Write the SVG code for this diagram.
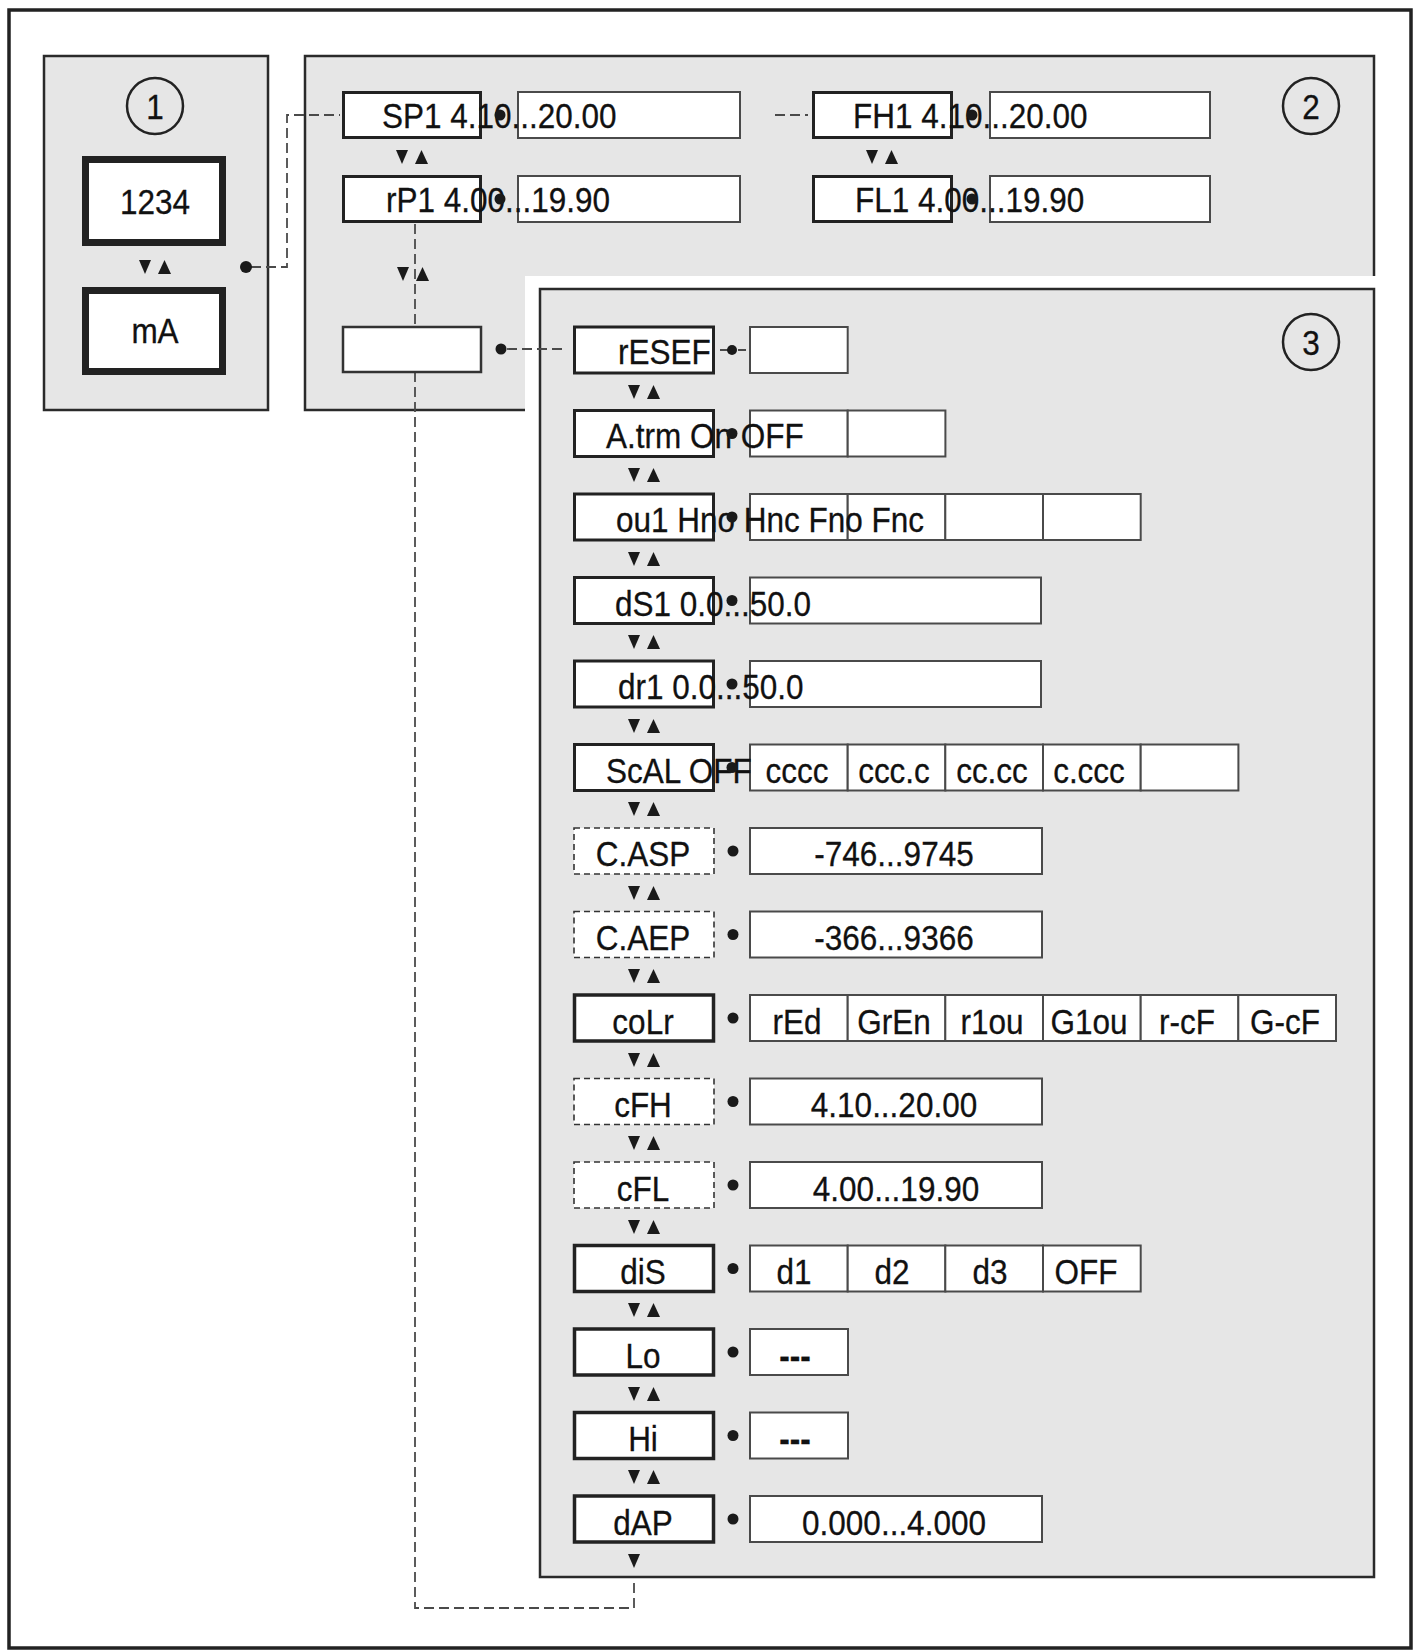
<svg xmlns="http://www.w3.org/2000/svg" xmlns:xlink="http://www.w3.org/1999/xlink" width="1415" height="1651" viewBox="0 0 1415 1651">
<defs>
<style>
.frame{fill:#fff;stroke:#222;stroke-width:3.5}
.panel{fill:#e6e6e6;stroke:#2a2a2a;stroke-width:2.5}
.key{fill:#fff;stroke:#222;stroke-width:3}
.keyd{fill:#fff;stroke:#333;stroke-width:1.6;stroke-dasharray:6 4}
.val{fill:#fff;stroke:#4a4a4a;stroke-width:2}
.big{fill:#fff;stroke:#222;stroke-width:7}
.t{font-family:"Liberation Sans",Arial,sans-serif;font-size:36px;fill:#111;stroke:#111;stroke-width:0.3}
.c{text-anchor:middle}
.dash{fill:none;stroke:#4a4a4a;stroke-width:1.8;stroke-dasharray:10 5}
.dot{fill:#1a1a1a}
.circ{fill:none;stroke:#222;stroke-width:2.5}
.tri{fill:#1a1a1a}
</style>
<g id="ud" class="tri"><polygon points="-16,-7 -4,-7 -10,7"/><polygon points="3,7 16,7 9.5,-7"/></g>
<g id="dn" class="tri"><polygon points="-16,-7 -4,-7 -10,7"/></g>
</defs>

<rect class="frame" x="9" y="10" width="1402" height="1638"/>

<g id="panel1">
<rect class="panel" x="44" y="56" width="224" height="354"/>
</g>
<g id="panel2">
<rect class="panel" x="305" y="56" width="1069" height="354"/>
</g>
<g id="panel3">
<rect x="525" y="276" width="864" height="1316" fill="#fff"/>
<rect class="panel" x="540" y="289" width="834" height="1288"/>
</g>

<g id="markers">
<circle class="circ" cx="155" cy="106" r="28"/>
<text class="t c" transform="matrix(.875 0 0 1 155 119)">1</text>
<circle class="circ" cx="1311" cy="106" r="28"/>
<text class="t c" transform="matrix(.875 0 0 1 1311 119)">2</text>
<circle class="circ" cx="1311" cy="342" r="28"/>
<text class="t c" transform="matrix(.875 0 0 1 1311 355)">3</text>
</g>

<g id="connectors">
<path class="dash" d="M251,267 H287 V115 H340"/>
<path class="dash" d="M775,115 H808"/>
<path class="dash" d="M415,224 V327"/>
<path class="dash" d="M415,372 V1608 H634 V1582"/>
<path class="dash" d="M507,349 H566"/>
<path class="dash" d="M720,350 H750" style="stroke-dasharray:8 10"/>
<use href="#ud" x="155" y="267"/>
<use href="#ud" x="412" y="157"/>
<use href="#ud" x="413" y="274"/>
<use href="#ud" x="882" y="157"/>
<use href="#ud" x="644" y="392"/>
<use href="#ud" x="644" y="475"/>
<use href="#ud" x="644" y="559"/>
<use href="#ud" x="644" y="642"/>
<use href="#ud" x="644" y="726"/>
<use href="#ud" x="644" y="809"/>
<use href="#ud" x="644" y="893"/>
<use href="#ud" x="644" y="976"/>
<use href="#ud" x="644" y="1060"/>
<use href="#ud" x="644" y="1143"/>
<use href="#ud" x="644" y="1227"/>
<use href="#ud" x="644" y="1310"/>
<use href="#ud" x="644" y="1394"/>
<use href="#ud" x="644" y="1477"/>
<use href="#dn" x="644" y="1561"/>
</g>

<g id="n-1234">
<rect class="big" x="85.5" y="159.5" width="137" height="83"/>
<text class="t c" transform="matrix(.875 0 0 1 155 214)">1234</text>
</g>
<g id="n-mA">
<rect class="big" x="85.5" y="290.5" width="137" height="81"/>
<text class="t c" transform="matrix(.875 0 0 1 155 343)">mA</text>
<circle class="dot" cx="246" cy="267" r="6"/>
</g>

<g id="n-SP1">
<rect class="key" x="343.5" y="92.5" width="137" height="45"/>
<rect class="val" x="518" y="92" width="222" height="46"/>
<text class="t" transform="matrix(.875 0 0 1 382 128)">SP1 4.10...20.00</text>
<circle class="dot" cx="500" cy="115" r="5.5"/>
</g>
<g id="n-rP1">
<rect class="key" x="343.5" y="176.5" width="137" height="45"/>
<rect class="val" x="518" y="176" width="222" height="46"/>
<text class="t" transform="matrix(.875 0 0 1 386 212)">rP1 4.00...19.90</text>
<circle class="dot" cx="500" cy="199" r="5.5"/>
</g>
<g id="n-FH1">
<rect class="key" x="813.5" y="92.5" width="138" height="45"/>
<rect class="val" x="990" y="92" width="220" height="46"/>
<text class="t" transform="matrix(.875 0 0 1 853 128)">FH1 4.10...20.00</text>
<circle class="dot" cx="972" cy="115" r="5.5"/>
</g>
<g id="n-FL1">
<rect class="key" x="813.5" y="176.5" width="138" height="45"/>
<rect class="val" x="990" y="176" width="220" height="46"/>
<text class="t" transform="matrix(.875 0 0 1 855 212)">FL1 4.00...19.90</text>
<circle class="dot" cx="972" cy="199" r="5.5"/>
</g>
<g id="n-blank">
<rect class="val" x="343" y="327" width="138" height="45" style="stroke:#333;stroke-width:2.5"/>
<circle class="dot" cx="501" cy="349" r="5.5"/>
</g>

<g id="n-rESEF" transform="translate(0,327)">
<rect class="key" x="574.5" y="0" width="139" height="46"/>
<rect class="val" x="750" y="0" width="97.7" height="46"/>
<text class="t" transform="matrix(.875 0 0 1 618 37)">rESEF</text>
<circle class="dot" cx="732" cy="23" r="5"/>
</g>
<g id="n-Atrm" transform="translate(0,410.5)">
<rect class="key" x="574.5" y="0" width="139" height="46"/>
<rect class="val" x="750" y="0" width="97.7" height="46"/>
<rect class="val" x="847.7" y="0" width="97.7" height="46"/>
<text class="t" transform="matrix(.875 0 0 1 606 37.5)">A.trm On OFF</text>
<circle class="dot" cx="732" cy="23" r="5.5"/>
</g>
<g id="n-ou1" transform="translate(0,494)">
<rect class="key" x="574.5" y="0" width="139" height="46"/>
<rect class="val" x="750" y="0" width="97.7" height="46"/>
<rect class="val" x="847.7" y="0" width="97.7" height="46"/>
<rect class="val" x="945.3" y="0" width="97.7" height="46"/>
<rect class="val" x="1043" y="0" width="97.7" height="46"/>
<text class="t" transform="matrix(.875 0 0 1 616 37.5)">ou1 Hno Hnc Fno Fnc</text>
<circle class="dot" cx="732" cy="23" r="5.5"/>
</g>
<g id="n-dS1" transform="translate(0,577.5)">
<rect class="key" x="574.5" y="0" width="139" height="46"/>
<rect class="val" x="750" y="0" width="291" height="46"/>
<text class="t" transform="matrix(.875 0 0 1 615 38)">dS1 0.0...50.0</text>
<circle class="dot" cx="732" cy="23" r="5.5"/>
</g>
<g id="n-dr1" transform="translate(0,661)">
<rect class="key" x="574.5" y="0" width="139" height="46"/>
<rect class="val" x="750" y="0" width="291" height="46"/>
<text class="t" transform="matrix(.875 0 0 1 618 38)">dr1 0.0...50.0</text>
<circle class="dot" cx="732" cy="23" r="5.5"/>
</g>
<g id="n-ScAL" transform="translate(0,744.5)">
<rect class="key" x="574.5" y="0" width="139" height="46"/>
<rect class="val" x="750" y="0" width="97.7" height="46"/>
<rect class="val" x="847.7" y="0" width="97.7" height="46"/>
<rect class="val" x="945.3" y="0" width="97.7" height="46"/>
<rect class="val" x="1043" y="0" width="97.7" height="46"/>
<rect class="val" x="1140.7" y="0" width="97.7" height="46"/>
<text class="t" transform="matrix(.875 0 0 1 606 38)">ScAL OFF</text>
<text class="t c" transform="matrix(.875 0 0 1 797 38)">cccc</text>
<text class="t c" transform="matrix(.875 0 0 1 894 38)">ccc.c</text>
<text class="t c" transform="matrix(.875 0 0 1 992 38)">cc.cc</text>
<text class="t c" transform="matrix(.875 0 0 1 1089 38)">c.ccc</text>
<circle class="dot" cx="732" cy="23" r="5.5"/>
</g>
<g id="n-CASP" transform="translate(0,828)">
<rect class="keyd" x="574" y="0" width="140" height="46"/>
<rect class="val" x="750" y="0" width="292" height="46"/>
<text class="t c" transform="matrix(.875 0 0 1 643 38)">C.ASP</text>
<text class="t c" transform="matrix(.875 0 0 1 894 38)">-746...9745</text>
<circle class="dot" cx="733" cy="23" r="5.5"/>
</g>
<g id="n-CAEP" transform="translate(0,911.5)">
<rect class="keyd" x="574" y="0" width="140" height="46"/>
<rect class="val" x="750" y="0" width="292" height="46"/>
<text class="t c" transform="matrix(.875 0 0 1 643 38)">C.AEP</text>
<text class="t c" transform="matrix(.875 0 0 1 894 38)">-366...9366</text>
<circle class="dot" cx="733" cy="23" r="5.5"/>
</g>
<g id="n-coLr" transform="translate(0,995)">
<rect class="key" x="574.5" y="0" width="139" height="46" style="stroke-width:3.5"/>
<rect class="val" x="750" y="0" width="97.7" height="46"/>
<rect class="val" x="847.7" y="0" width="97.7" height="46"/>
<rect class="val" x="945.3" y="0" width="97.7" height="46"/>
<rect class="val" x="1043" y="0" width="97.7" height="46"/>
<rect class="val" x="1140.7" y="0" width="97.7" height="46"/>
<rect class="val" x="1238.3" y="0" width="97.7" height="46"/>
<text class="t c" transform="matrix(.875 0 0 1 643 38.5)">coLr</text>
<text class="t c" transform="matrix(.875 0 0 1 797 38.5)">rEd</text>
<text class="t c" transform="matrix(.875 0 0 1 894 38.5)">GrEn</text>
<text class="t c" transform="matrix(.875 0 0 1 992 38.5)">r1ou</text>
<text class="t c" transform="matrix(.875 0 0 1 1089 38.5)">G1ou</text>
<text class="t c" transform="matrix(.875 0 0 1 1187 38.5)">r-cF</text>
<text class="t c" transform="matrix(.875 0 0 1 1285 38.5)">G-cF</text>
<circle class="dot" cx="733" cy="23" r="5.5"/>
</g>
<g id="n-cFH" transform="translate(0,1078.5)">
<rect class="keyd" x="574" y="0" width="140" height="46"/>
<rect class="val" x="750" y="0" width="292" height="46"/>
<text class="t c" transform="matrix(.875 0 0 1 643 38.5)">cFH</text>
<text class="t c" transform="matrix(.875 0 0 1 894 38.5)">4.10...20.00</text>
<circle class="dot" cx="733" cy="23" r="5.5"/>
</g>
<g id="n-cFL" transform="translate(0,1162)">
<rect class="keyd" x="574" y="0" width="140" height="46"/>
<rect class="val" x="750" y="0" width="292" height="46"/>
<text class="t c" transform="matrix(.875 0 0 1 643 38.5)">cFL</text>
<text class="t c" transform="matrix(.875 0 0 1 896 38.5)">4.00...19.90</text>
<circle class="dot" cx="733" cy="23" r="5.5"/>
</g>
<g id="n-diS" transform="translate(0,1245.5)">
<rect class="key" x="574.5" y="0" width="139" height="46" style="stroke-width:3.5"/>
<rect class="val" x="750" y="0" width="97.7" height="46"/>
<rect class="val" x="847.7" y="0" width="97.7" height="46"/>
<rect class="val" x="945.3" y="0" width="97.7" height="46"/>
<rect class="val" x="1043" y="0" width="97.7" height="46"/>
<text class="t c" transform="matrix(.875 0 0 1 643 38.5)">diS</text>
<text class="t c" transform="matrix(.875 0 0 1 794 38.5)">d1</text>
<text class="t c" transform="matrix(.875 0 0 1 892 38.5)">d2</text>
<text class="t c" transform="matrix(.875 0 0 1 990 38.5)">d3</text>
<text class="t c" transform="matrix(.875 0 0 1 1086 38.5)">OFF</text>
<circle class="dot" cx="733" cy="23" r="5.5"/>
</g>
<g id="n-Lo" transform="translate(0,1329)">
<rect class="key" x="574.5" y="0" width="139" height="46" style="stroke-width:3.5"/>
<rect class="val" x="750" y="0" width="98" height="46"/>
<text class="t c" transform="matrix(.875 0 0 1 643 38.5)">Lo</text>
<text class="t c" transform="matrix(.875 0 0 1 795 38.5)" style="font-weight:bold">---</text>
<circle class="dot" cx="733" cy="23" r="5.5"/>
</g>
<g id="n-Hi" transform="translate(0,1412.5)">
<rect class="key" x="574.5" y="0" width="139" height="46" style="stroke-width:3.5"/>
<rect class="val" x="750" y="0" width="98" height="46"/>
<text class="t c" transform="matrix(.875 0 0 1 643 38.5)">Hi</text>
<text class="t c" transform="matrix(.875 0 0 1 795 38.5)" style="font-weight:bold">---</text>
<circle class="dot" cx="733" cy="23" r="5.5"/>
</g>
<g id="n-dAP" transform="translate(0,1496)">
<rect class="key" x="574.5" y="0" width="139" height="46" style="stroke-width:3.5"/>
<rect class="val" x="750" y="0" width="292" height="46"/>
<text class="t c" transform="matrix(.875 0 0 1 643 38.5)">dAP</text>
<text class="t c" transform="matrix(.875 0 0 1 894 38.5)">0.000...4.000</text>
<circle class="dot" cx="733" cy="23" r="5.5"/>
</g>
</svg>
